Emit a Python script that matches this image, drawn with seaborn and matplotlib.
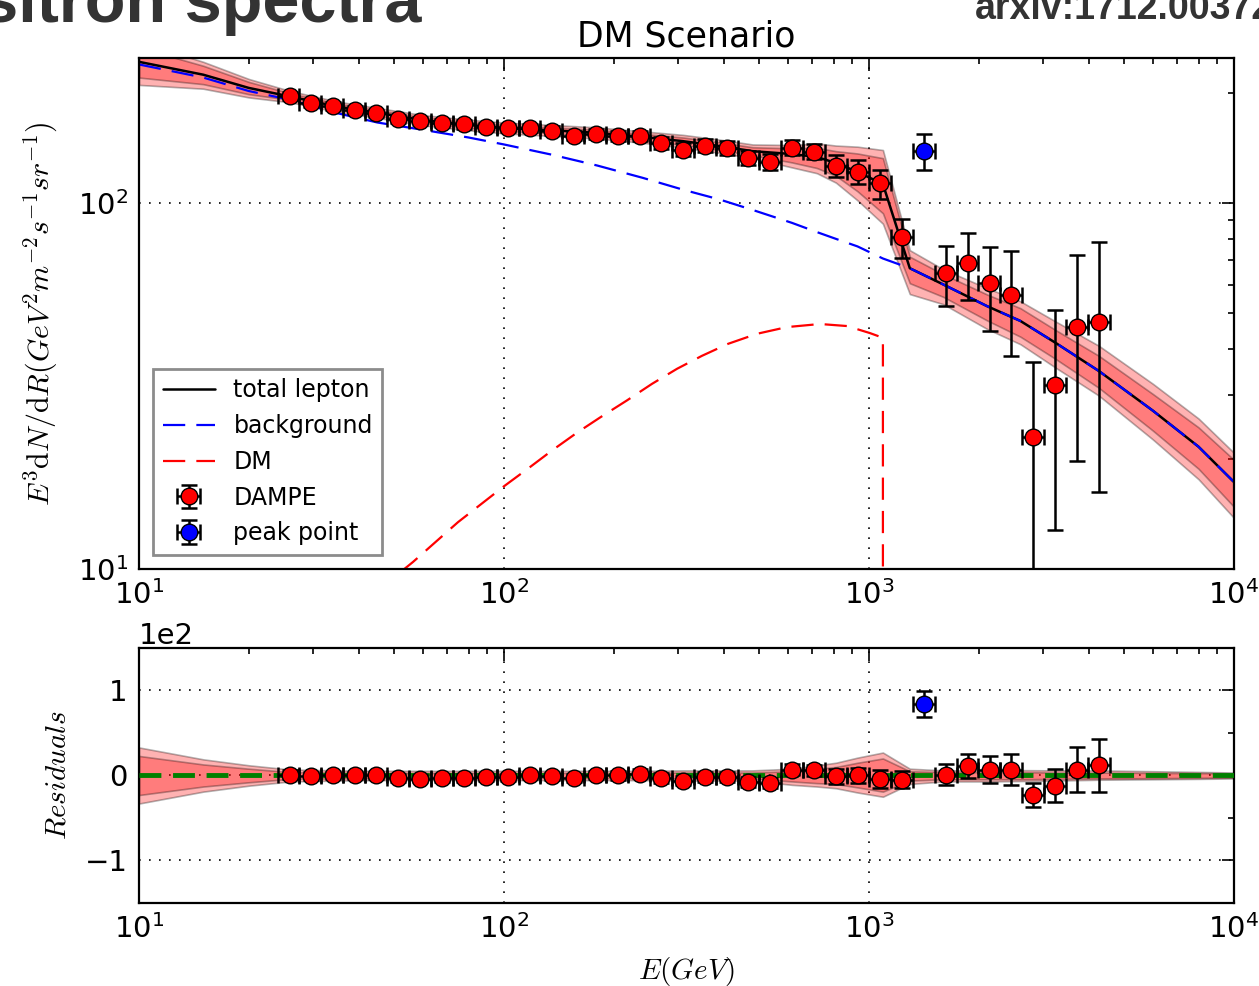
"""
DM scenario fit to the DAMPE electron+positron spectrum, with residuals
"""

import numpy as np
import seaborn as sns
from matplotlib import pyplot as plt
from matplotlib.ticker import MultipleLocator

sns.set_style('white')
plt.rcParams['font.family'] = ['DejaVu Sans']
plt.rcParams['mathtext.fontset'] = 'cm'
plt.rcParams['text.color'] = 'black'
plt.rcParams['axes.labelcolor'] = 'black'

#------------------------------------------------------------------------------
# Data
#------------------------------------------------------------------------------
bin_edges = [24.0, 27.5, 31.6, 36.3, 41.7, 47.9, 55.0, 63.1, 72.4, 83.2, 95.5,
             109.6, 125.9, 144.5, 166.0, 190.5, 218.8, 251.2, 288.4, 331.1,
             380.2, 436.5, 501.2, 575.4, 660.7, 758.6, 871.0, 1000.0, 1148.0,
             1318.0, 1514.0, 1738.0, 1995.0, 2291.0, 2630.0, 3020.0, 3467.0,
             3981.0, 4571.0]
dampe_bins = list(range(29)) + list(range(30, 38))
dampe_E = [25.9, 29.6, 34.0, 39.1, 44.6, 51.2, 58.9, 67.6, 77.7, 89.3, 102.6,
           117.8, 135.4, 155.5, 178.7, 205.3, 235.9, 269.2, 309.3, 355.4, 408.3,
           466.2, 535.6, 615.2, 706.8, 812.2, 933.2, 1072, 1232, 1626, 1868,
           2146, 2449, 2813, 3233, 3714, 4267]
dampe_flux = [196.5, 188.8, 184.6, 180.1, 176.3, 170.6, 168.3, 166.2, 164.5,
              162.1, 161.2, 161.1, 158.1, 153.2, 155.1, 153.2, 153.2, 146.6,
              140.3, 143.9, 142.1, 133.5, 130.1, 142.1, 138.6, 126.9, 122.2,
              113.4, 80.8, 64.5, 68.6, 60.5, 56.2, 22.9, 31.9, 45.9, 47.4]
dampe_err = [5.0, 4.8, 4.6, 4.5, 4.4, 4.3, 4.2, 4.2, 4.2, 4.2, 4.2, 4.3, 4.4,
             4.5, 4.7, 4.9, 5.1, 5.4, 5.6, 5.9, 6.2, 6.0, 6.3, 6.8, 6.6, 8.9,
             9.0, 10.3, 9.8, 12.1, 14.3, 15.7, 17.9, 14.0, 19.1, 26.2, 31.2]
dampe_resid = [1, -1, 0, 0, 0, -3, -4, -3, -3, -2, -2, 0, -1, -3, 1, 0, 2, -3,
               -6, -2, -2, -8, -9, 7, 6, -1, 0, -4, -5, 1, 11, 7, 7, -23, -12,
               7, 12]

peak_bin = 29
peak_E = [1415]
peak_flux = [139.5]
peak_err = [15.7]
peak_resid = [84]

curve_E = [10, 15, 20, 26, 35, 45, 60, 80, 100, 135, 180, 240, 310, 390, 480,
           615, 720, 812, 930, 1092, 1294, 1600, 2104, 2600, 3253, 4266, 6000,
           8000, 10000]
total = [244, 225, 207, 196, 184, 177, 169, 164, 161, 158.5, 156, 152, 148,
         143.5, 139, 136.5, 134, 129, 122, 113, 66.5, 60, 52.4, 47.7, 41.5,
         34.8, 27.1, 21.6, 17.3]
background = [240, 221, 203, 192, 176.5, 166.5, 159, 151.5, 145, 136, 127,
              117.5, 109, 102.5, 96, 88.5, 83.5, 80, 76.3, 70.7, 66.5, 60,
              52.4, 47.7, 41.5, 34.8, 27.1, 21.6, 17.3]
# 1 sigma / 2 sigma band half widths (up / down)
in_up = [23, 13, 8, 4, 3.5, 3, 3, 3, 3, 3, 3, 3, 3.5, 3.5, 3.5, 5, 8, 10, 15,
         20, 5, 4, 4, 4, 3.5, 3.5, 3, 2.8, 2.6]
in_dn = [23, 13, 8, 4, 3.5, 3, 3, 3, 3, 3, 3, 3, 3.5, 3.5, 3.5, 7, 9, 10, 14,
         19, 6, 4.5, 4.5, 4.5, 4, 3.5, 3.2, 2.8, 2.5]
out_up = [33, 19, 12, 7, 6, 5.5, 5.5, 5.5, 5.5, 5.5, 5.5, 5.5, 6, 6, 6, 8, 12,
          15, 21, 27, 8, 6, 6.3, 6.3, 6, 6, 5, 4.2, 3.5]
out_dn = [33, 19, 12, 7, 6, 5.5, 5.5, 5.5, 5.5, 5.5, 5.5, 5.5, 6, 6, 6, 11,
          13, 15, 20, 25, 10, 7, 7, 6.5, 6, 5, 4.5, 4, 3.5]

dm_E = [52, 56.3, 74.8, 100, 117.8, 135.4, 158.5, 183.2, 217, 254.4, 298,
        348.7, 411, 493.4, 596, 734.4, 871, 1006, 1092, 1092]
dm = [9.8, 10.45, 13.43, 16.84, 19.0, 21.1, 23.6, 25.96, 28.9, 32.1, 35.3,
      38.3, 41.3, 44.0, 45.9, 46.8, 46.2, 44.2, 42.9, 0.01]

#------------------------------------------------------------------------------
# Set arrays
#------------------------------------------------------------------------------
edges = np.array(bin_edges)
E = np.array(dampe_E)
xerr = [E - edges[dampe_bins], edges[np.array(dampe_bins) + 1] - E]
pE = np.array(peak_E)
pxerr = [pE - edges[peak_bin], edges[peak_bin + 1] - pE]

cE = np.array(curve_E)
tot = np.array(total)
i_up, i_dn = np.array(in_up), np.array(in_dn)
o_up, o_dn = np.array(out_up), np.array(out_dn)

#------------------------------------------------------------------------------
# Plot figure
#------------------------------------------------------------------------------
fig = plt.figure(figsize=(12.59, 9.86), dpi=100)
ax0 = fig.add_axes([0.1104, 0.4229, 0.8697, 0.5183])
ax1 = fig.add_axes([0.1104, 0.0842, 0.8697, 0.2586])

for ax in (ax0, ax1):
    ax.set_xscale('log')
ax0.set_yscale('log')

band_kw = dict(color='red', alpha=0.3, edgecolor='k', linewidth=1.2, zorder=1)
ax0.fill_between(cE, tot - o_dn, tot + o_up, **band_kw)
ax0.fill_between(cE, tot - i_dn, tot + i_up, **band_kw)
ax1.fill_between(cE, -o_dn, o_up, **band_kw)
ax1.fill_between(cE, -i_dn, i_up, **band_kw)

sns.lineplot(x=curve_E, y=total, color='black', lw=1.8, ax=ax0,
             sort=False, estimator=None, label='total lepton')
sns.lineplot(x=curve_E, y=background, color='blue', lw=1.6, ax=ax0,
             sort=False, estimator=None, label='background')
ax0.lines[-1].set_dashes([10, 5])
sns.lineplot(x=dm_E, y=dm, color='red', lw=1.6, ax=ax0,
             sort=False, estimator=None, label='DM')
ax0.lines[-1].set_dashes([10, 5])

eb_kw = dict(fmt='o', ecolor='black', mec='black', ms=12, capsize=5.5,
             elinewidth=1.8, capthick=1.8, zorder=5)
ax0.errorbar(E, dampe_flux, xerr=xerr, yerr=dampe_err, mfc='red',
             label='DAMPE', **eb_kw)
ax0.errorbar(pE, peak_flux, xerr=pxerr, yerr=peak_err, mfc='blue',
             label='peak point', **eb_kw)

ax1.axhline(0, color='green', lw=3.5, dashes=(4.5, 2.4), zorder=3)
ax1.errorbar(E, dampe_resid, xerr=xerr, yerr=dampe_err, mfc='red', **eb_kw)
ax1.errorbar(pE, peak_resid, xerr=pxerr, yerr=peak_err, mfc='blue', **eb_kw)

#------------------------------------------------------------------------------
# Axes cosmetics
#------------------------------------------------------------------------------
ax0.set_xlim(10, 1e4)
ax0.set_ylim(10, 250)
ax1.set_xlim(10, 1e4)
ax1.set_ylim(-150, 150)
ax1.set_yticks([-100, 0, 100])
ax1.yaxis.set_minor_locator(MultipleLocator(50))
ax1.ticklabel_format(axis='y', style='sci', scilimits=(0, 0))
ax1.yaxis.get_offset_text().set_fontsize(21)

for ax in (ax0, ax1):
    ax.grid(True, which='major', color='black', ls=(0, (1, 5)), lw=1.2)
    ax.tick_params(which='both', direction='in', top=True, right=True,
                   width=1.2, labelsize=21, colors='black')
    ax.tick_params(which='major', length=9, pad=8)
    ax.tick_params(which='minor', length=4.5)
    for s in ax.spines.values():
        s.set_visible(True)
        s.set_color('black')
        s.set_linewidth(1.6)

ax0.set_title('DM Scenario', fontsize=25, pad=8, color='black')
ax0.set_ylabel(r'$E^3\mathrm{d}N/\mathrm{d}R(GeV^2m^{-2}s^{-1}sr^{-1})$',
               fontsize=21.5)
ax0.yaxis.set_label_coords(-0.072, 0.5)
ax1.set_ylabel(r'$Residuals$', fontsize=21)
ax1.yaxis.set_label_coords(-0.062, 0.5)
ax1.set_xlabel(r'$E(GeV)$', fontsize=21)
ax1.xaxis.set_label_coords(0.5, -0.205)

h, l = ax0.get_legend_handles_labels()
order = ['total lepton', 'background', 'DM', 'DAMPE', 'peak point']
leg = ax0.legend([h[l.index(k)] for k in order], order, loc='lower left',
                 fontsize=17, fancybox=False, framealpha=1, edgecolor='0.55',
                 borderaxespad=0.6, handlelength=2.2, numpoints=1)
leg.get_frame().set_linewidth(2)

# slide header fragments
fig.text(422 / 1259, 1 - 22 / 986, 'Positron spectra', ha='right',
         va='baseline', fontsize=48, fontweight='bold', color='#333333',
         family='Liberation Sans')
fig.text(975 / 1259, 1 - 19 / 986, 'arxiv:1712.00372', ha='left',
         va='baseline', fontsize=27, fontweight='bold', color='#333333',
         family='Liberation Sans')

#------------------------------------------------------------------------------
# Save figure
#------------------------------------------------------------------------------
plt.savefig('out.png', dpi=100)
